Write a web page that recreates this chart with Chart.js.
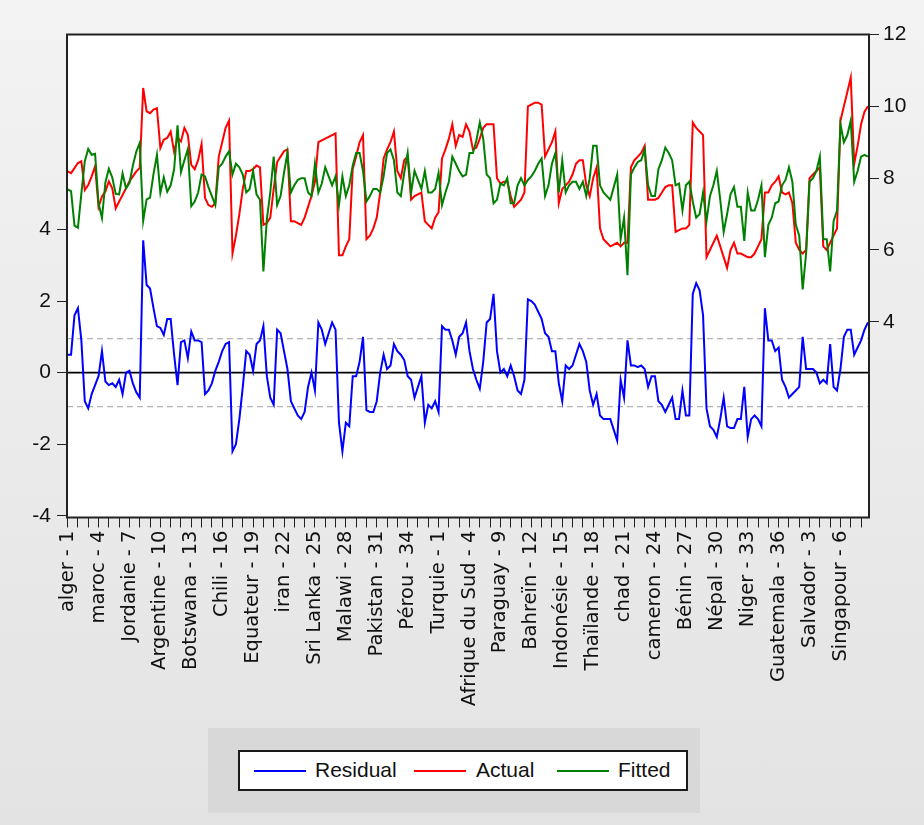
<!DOCTYPE html>
<html>
<head>
<meta charset="utf-8">
<script src="https://cdn.jsdelivr.net/npm/chart.js@4.4.1/dist/chart.umd.min.js"></script>
<style>
  html, body { margin: 0; padding: 0; }
  body {
    width: 924px; height: 825px; position: relative; overflow: hidden;
    background: linear-gradient(#f3f3f3, #e3e3e3);
    font-family: "Liberation Sans", Arial, sans-serif;
  }
  #chart { position: absolute; left: 0; top: 0; }
  #legendPanel { position: absolute; left: 208px; top: 728px; width: 492px; height: 85px; background: #d8d8d8; }
  #legendBox { position: absolute; left: 30px; top: 22px; width: 446px; height: 37px; background: #fff; border: 2px solid #1a1a1a; }
  .sw { position: absolute; top: 18px; width: 52px; height: 2px; }
  .lb { position: absolute; top: 6px; font-size: 21px; line-height: 24px; color: #111; }
</style>
</head>
<body>
<canvas id="chart" width="924" height="825"></canvas>
<div id="legendPanel">
  <div id="legendBox">
    <div class="sw" style="left:14px;background:#0000ff"></div><div class="lb" style="left:75px">Residual</div>
    <div class="sw" style="left:174px;background:#ff0000"></div><div class="lb" style="left:236px">Actual</div>
    <div class="sw" style="left:317px;background:#008000"></div><div class="lb" style="left:378px">Fitted</div>
  </div>
</div>
<script>
// one label every 3 ticks
const tickLabels = [
  "alger - 1", "maroc - 4", "Jordanie - 7", "Argentine - 10", "Botswana - 13",
  "Chili - 16", "Equateur - 19", "iran - 22", "Sri Lanka - 25", "Malawi - 28",
  "Pakistan - 31", "Pérou - 34", "Turquie - 1", "Afrique du Sud - 4", "Paraguay - 9",
  "Bahreïn - 12", "Indonésie - 15", "Thaïlande - 18", "chad - 21", "cameron - 24",
  "Bénin - 27", "Népal - 30", "Niger - 33", "Guatemala - 36", "Salvador - 3", "Singapour - 6"
];

const residual = [
  0.5, 0.5, 1.6, 1.8, 0.9, -0.8, -1.0, -0.6, -0.35, -0.1, 0.6, -0.25, -0.35, -0.3, -0.4, -0.2, -0.6, 0.0, 0.05, -0.3,
  -0.55, -0.7, 3.7, 2.45, 2.35, 1.8, 1.3, 1.25, 1.05, 1.5, 1.5, 0.5, -0.35, 0.85, 0.9, 0.4, 1.15,
  0.9, 0.9, 0.85, -0.6, -0.5, -0.3, 0.05, 0.3, 0.6, 0.8, 0.85, -2.2, -2.0, -1.3, -0.4, 0.6, 0.5, 0.05, 0.8, 0.9,
  1.3, -0.1, -0.7, -0.9, 1.2, 1.1, 0.6, 0.1, -0.8, -1.0, -1.2, -1.3, -1.1, -0.4, 0.0, -0.5, 1.4, 1.2, 0.8, 1.1,
  1.4, 1.2, -1.4, -2.2, -1.4, -1.5, -0.1, -0.1, 0.3, 1.0, -1.05, -1.1, -1.1, -0.8, 0.0, 0.5, 0.1, 0.2, 0.8, 0.6,
  0.5, 0.35, -0.1, -0.2, -0.7, -0.4, -0.1, -1.4, -0.9, -1.0, -0.8, -1.1, 1.3, 1.2, 1.2, 0.9, 0.5, 1.0, 1.1,
  1.4, 0.6, 0.1, -0.2, -0.45, 0.3, 1.4, 1.5, 2.2, 0.6, 0.0, 0.1, -0.1, 0.2, -0.1, -0.5, -0.6, -0.2, 2.05, 2.0,
  1.9, 1.7, 1.5, 1.1, 1.0, 0.6, 0.6, -0.3, -0.8, 0.2, 0.1, 0.2, 0.5, 0.8, 0.6, 0.3, -0.5, -0.9, -0.6,
  -1.2, -1.3, -1.3, -1.3, -1.6, -1.9, -0.2, -0.7, 0.9, 0.2, 0.2, 0.15, 0.2, 0.1, -0.4, -0.1, -0.1, -0.8, -0.9, -1.1,
  -0.9, -0.7, -1.3, -1.3, -0.5, -1.2, -1.2, 2.2, 2.5, 2.3, 1.6, -1.0, -1.5, -1.6, -1.8, -1.3, -0.7, -1.5, -1.55, -1.55,
  -1.3, -1.3, -0.4, -1.8, -1.3, -1.2, -1.3, -1.5, 1.8, 0.9, 0.9, 0.6, 0.7, -0.2, -0.4, -0.7, -0.6, -0.5, -0.4, 1.0,
  0.1, 0.1, 0.1, 0.0, -0.3, -0.2, -0.3, 0.8, -0.4, -0.5, 0.1, 1.0, 1.2, 1.2, 0.5, 0.7, 0.9, 1.2, 1.4
];

const actual = [
  8.19, 8.14, 8.28, 8.42, 8.47, 7.67, 7.81, 8.05, 8.33, 7.2, 7.49, 7.63, 7.91, 7.72, 7.16, 7.35, 7.53, 7.72, 7.91, 8.05,
  8.19, 8.28, 10.51, 9.86, 9.81, 9.91, 9.95, 8.84, 9.07, 9.12, 9.3, 8.74, 9.12, 9.02, 9.4, 9.21, 8.37,
  8.25, 8.5, 8.95, 7.45, 7.25, 7.2, 7.3, 8.6, 9.0, 9.4, 9.6, 5.9, 6.4, 7.0, 7.7, 8.2, 8.2, 8.25, 8.35, 8.3,
  6.7, 6.75, 6.9, 7.7, 8.45, 8.6, 8.75, 8.8, 6.8, 6.8, 6.75, 6.7, 6.9, 7.2, 7.5, 7.9, 9.0, 9.05, 9.1, 9.15,
  9.2, 9.25, 5.85, 5.85, 6.1, 6.3, 8.25, 8.6, 9.0, 9.2, 6.3, 6.4, 6.6, 6.9, 7.6, 8.55, 8.8, 9.0, 9.3, 8.2,
  8.0, 8.5, 8.6, 7.4, 7.5, 7.55, 7.6, 6.8, 6.7, 6.6, 6.9, 7.05, 8.55, 8.8, 9.1, 9.5, 8.9, 9.2, 9.15,
  9.5, 9.3, 8.8, 8.85, 9.1, 9.4, 9.5, 9.5, 9.5, 8.0, 7.85, 7.9, 7.9, 7.5, 7.2, 7.3, 7.4, 7.6, 10.0, 10.05,
  10.1, 10.1, 10.05, 8.6, 8.8, 9.0, 9.3, 7.3, 7.7, 7.8, 7.9, 8.1, 8.4, 8.5, 8.5, 7.8, 7.5, 8.0, 8.3,
  6.6, 6.3, 6.2, 6.1, 6.15, 6.2, 6.1, 6.2, 6.2, 8.3, 8.5, 8.6, 8.7, 8.9, 7.4, 7.4, 7.4, 7.45, 7.6, 7.75,
  7.8, 7.8, 6.5, 6.55, 6.6, 6.6, 6.7, 9.55, 9.4, 9.3, 9.2, 5.8, 6.0, 6.2, 6.4, 6.1, 5.8, 5.5, 6.0, 6.2,
  5.9, 5.9, 5.85, 5.8, 5.8, 5.9, 6.1, 6.3, 7.6, 7.6, 7.8, 7.9, 8.05, 7.6, 7.55, 7.6, 7.3, 6.2, 6.0, 5.9,
  6.0, 8.0, 8.1, 8.2, 8.3, 6.1, 6.0, 6.2, 6.4, 6.6, 9.6, 10.0, 10.4, 10.8, 8.4, 8.9, 9.5, 9.85, 10.0
];

const fitted = [
  7.69, 7.64, 6.68, 6.62, 7.57, 8.47, 8.81, 8.65, 8.68, 7.3, 6.89, 7.88, 8.26, 8.02, 7.56, 7.55, 8.13, 7.72, 7.86, 8.35,
  8.74, 8.98, 6.81, 7.41, 7.46, 8.11, 8.65, 7.59, 8.02, 7.62, 7.8, 8.24, 9.47, 8.17, 8.5, 8.81, 7.22,
  7.35, 7.6, 8.1, 8.05, 7.75, 7.5, 7.25, 8.3, 8.4, 8.6, 8.75, 8.1, 8.4, 8.3, 8.1, 7.6, 7.7, 8.2, 7.55, 7.4,
  5.4, 6.85, 7.6, 8.6, 7.25, 7.5, 8.15, 8.7, 7.6, 7.8, 7.95, 8.0, 8.0, 7.6, 7.5, 8.4, 7.6, 7.85, 8.3, 8.05,
  7.8, 8.05, 7.25, 8.05, 7.5, 7.8, 8.35, 8.7, 8.7, 8.2, 7.35, 7.5, 7.7, 7.7, 7.6, 8.05, 8.7, 8.8, 8.5, 7.6,
  7.5, 8.15, 8.7, 7.6, 8.2, 7.95, 7.7, 8.2, 7.6, 7.6, 7.7, 8.15, 7.25, 7.6, 7.9, 8.6, 8.4, 8.2, 8.05,
  8.1, 8.7, 8.7, 9.05, 9.55, 9.1, 8.1, 8.0, 7.3, 7.4, 7.85, 7.8, 8.0, 7.3, 7.3, 7.8, 8.0, 7.8, 7.95, 8.05,
  8.2, 8.4, 8.55, 7.5, 7.8, 8.4, 8.7, 7.6, 8.5, 7.6, 7.8, 7.9, 7.9, 7.7, 7.9, 7.5, 8.0, 8.9, 8.9,
  7.8, 7.6, 7.5, 7.4, 7.75, 8.1, 6.3, 6.9, 5.3, 8.1, 8.3, 8.45, 8.5, 8.8, 7.8, 7.5, 7.5, 8.25, 8.5, 8.85,
  8.7, 8.5, 7.8, 7.85, 7.1, 7.8, 7.9, 7.35, 6.9, 7.0, 7.6, 6.8, 7.5, 7.8, 8.2, 7.4, 6.5, 7.0, 7.55, 7.75,
  7.2, 7.2, 6.25, 7.6, 7.1, 7.1, 7.4, 7.8, 5.8, 6.7, 6.9, 7.3, 7.35, 7.8, 7.95, 8.3, 7.9, 6.7, 6.4, 4.9,
  5.9, 7.9, 8.0, 8.2, 8.6, 6.3, 6.3, 5.4, 6.8, 7.1, 9.5, 9.0, 9.2, 9.6, 7.9, 8.2, 8.6, 8.65, 8.6
];

const leftTicks = [-4, -2, 0, 2, 4];
const rightTicks = [4, 6, 8, 10, 12];
const bandLines = [0.95, -0.95];
const pointsPerTick = 3;
const tickCount = 78;

function toPoints(values) {
  return values.map((v, i) => ({ x: i / pointsPerTick, y: v }));
}

const plotFrame = {
  id: "plotFrame",
  beforeDatasetsDraw(chart) {
    const { ctx, chartArea: a, scales } = chart;
    ctx.save();
    ctx.fillStyle = "#fff";
    ctx.fillRect(a.left, a.top, a.right - a.left, a.bottom - a.top);
    ctx.lineWidth = 1.2;
    ctx.strokeStyle = "#b4b4b4";
    ctx.setLineDash([6, 4]);
    bandLines.forEach((v) => {
      const y = scales.y.getPixelForValue(v);
      ctx.beginPath();
      ctx.moveTo(a.left, y);
      ctx.lineTo(a.right, y);
      ctx.stroke();
    });
    ctx.setLineDash([]);
    ctx.strokeStyle = "#000";
    ctx.lineWidth = 1.6;
    const y0 = scales.y.getPixelForValue(0);
    ctx.beginPath();
    ctx.moveTo(a.left, y0);
    ctx.lineTo(a.right, y0);
    ctx.stroke();
    ctx.restore();
  },
  afterDatasetsDraw(chart) {
    const { ctx, chartArea: a } = chart;
    ctx.save();
    ctx.strokeStyle = "#222";
    ctx.lineWidth = 2;
    ctx.strokeRect(a.left, a.top, a.right - a.left, a.bottom - a.top);
    ctx.restore();
  }
};

Chart.defaults.font.family = "'Liberation Sans', Arial, sans-serif";
Chart.defaults.font.size = 21;
Chart.defaults.color = "#111";

new Chart(document.getElementById("chart").getContext("2d"), {
  type: "line",
  data: {
    datasets: [
      { label: "Residual", data: toPoints(residual), yAxisID: "y", borderColor: "#0000ff", order: 2 },
      { label: "Actual", data: toPoints(actual), yAxisID: "y2", borderColor: "#ff0000", order: 1 },
      { label: "Fitted", data: toPoints(fitted), yAxisID: "y2", borderColor: "#008000", order: 0 }
    ]
  },
  options: {
    responsive: false,
    animation: false,
    events: [],
    layout: { padding: { top: 34.5, left: 0, right: 0, bottom: 0 } },
    elements: { point: { radius: 0 }, line: { borderWidth: 2, tension: 0 } },
    plugins: { legend: { display: false }, tooltip: { enabled: false } },
    scales: {
      x: {
        type: "linear",
        min: -0.06,
        max: 77.77,
        afterBuildTicks: (s) => { s.ticks = Array.from({ length: tickCount }, (_, i) => ({ value: i })); },
        afterFit: (s) => { s.height = 307.5; },
        grid: { drawOnChartArea: false, tickLength: 10, color: "#222", lineWidth: 1 },
        border: { display: false },
        ticks: {
          autoSkip: false,
          minRotation: 90,
          maxRotation: 90,
          padding: 3,
          font: { family: "'DejaVu Sans', sans-serif", size: 19.5 },
          callback: (v) => (v % 3 === 0 ? tickLabels[v / 3] : "")
        }
      },
      y: {
        position: "left",
        min: -4.05,
        max: 9.45,
        afterBuildTicks: (s) => { s.ticks = leftTicks.map((v) => ({ value: v })); },
        afterFit: (s) => { s.width = 67; },
        grid: { drawOnChartArea: false, tickLength: 10, color: "#222" },
        border: { display: false },
        ticks: { padding: 6 }
      },
      y2: {
        position: "right",
        min: -1.45,
        max: 12,
        afterBuildTicks: (s) => { s.ticks = rightTicks.map((v) => ({ value: v })); },
        afterFit: (s) => { s.width = 55; },
        grid: { drawOnChartArea: false, tickLength: 10, color: "#222" },
        border: { display: false },
        ticks: { padding: 4 }
      }
    }
  },
  plugins: [plotFrame]
});
</script>
</body>
</html>
